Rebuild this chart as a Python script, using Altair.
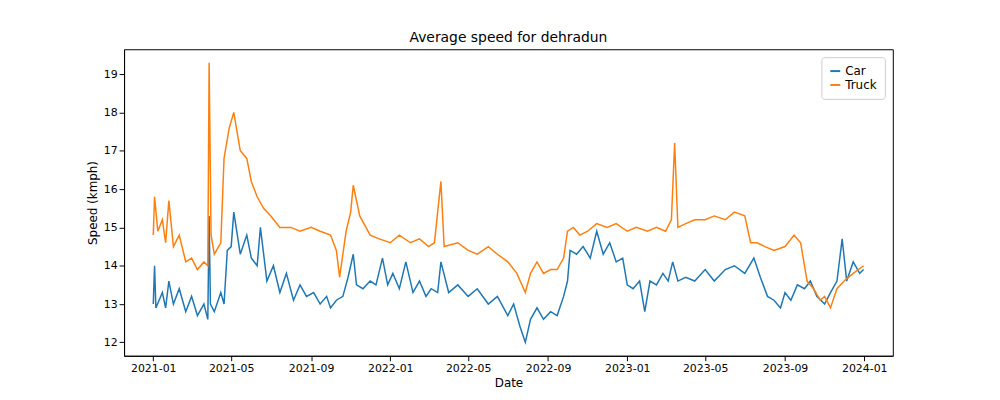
import altair as alt
import pandas as pd

car_dates = ["2021-01-01","2021-01-03","2021-01-05","2021-01-10","2021-01-15","2021-01-20","2021-01-25","2021-02-01","2021-02-10","2021-02-20","2021-03-01","2021-03-10","2021-03-20","2021-03-26","2021-03-28","2021-03-30","2021-04-05","2021-04-15","2021-04-20","2021-04-25","2021-05-01","2021-05-05","2021-05-15","2021-05-25","2021-06-01","2021-06-10","2021-06-15","2021-06-25","2021-07-05","2021-07-15","2021-07-25","2021-08-05","2021-08-15","2021-08-25","2021-09-05","2021-09-15","2021-09-25","2021-10-01","2021-10-10","2021-10-20","2021-10-28","2021-11-05","2021-11-10","2021-11-20","2021-12-01","2021-12-10","2021-12-20","2021-12-28",
    "2022-01-05","2022-01-15","2022-01-25","2022-02-05","2022-02-15","2022-02-25","2022-03-05","2022-03-15","2022-03-20","2022-04-01","2022-04-15","2022-05-01","2022-05-15","2022-06-01","2022-06-15","2022-07-01","2022-07-10","2022-07-20","2022-07-28","2022-08-05","2022-08-15","2022-08-25","2022-09-05","2022-09-15","2022-09-25","2022-10-01","2022-10-05","2022-10-15","2022-10-25","2022-11-05","2022-11-15","2022-11-25","2022-12-05","2022-12-15","2022-12-25",
    "2023-01-01","2023-01-10","2023-01-20","2023-01-28","2023-02-05","2023-02-15","2023-02-25","2023-03-05","2023-03-12","2023-03-20","2023-04-01","2023-04-15","2023-05-01","2023-05-15","2023-06-01","2023-06-15","2023-07-01","2023-07-15","2023-07-25","2023-08-05","2023-08-15","2023-08-25","2023-09-01","2023-09-10","2023-09-20","2023-10-01","2023-10-10","2023-10-20","2023-11-01","2023-11-10","2023-11-20","2023-11-28","2023-12-05","2023-12-15","2023-12-25","2023-12-31"]
car_speed = [13.0,14.0,12.9,13.1,13.3,12.9,13.6,13.0,13.4,12.8,13.2,12.7,13.0,12.6,15.3,13.0,12.8,13.3,13.0,14.4,14.5,15.4,14.3,14.8,14.2,14.0,15.0,13.6,14.0,13.3,13.8,13.1,13.5,13.2,13.3,13.0,13.2,12.9,13.1,13.2,13.7,14.3,13.5,13.4,13.6,13.5,14.2,13.5,
    13.8,13.4,14.1,13.3,13.6,13.2,13.4,13.3,14.1,13.3,13.5,13.2,13.4,13.0,13.2,12.7,13.0,12.4,12.0,12.6,12.9,12.6,12.8,12.7,13.2,13.6,14.4,14.3,14.5,14.2,14.9,14.3,14.6,14.1,14.2,
    13.5,13.4,13.6,12.8,13.6,13.5,13.8,13.6,14.1,13.6,13.7,13.6,13.9,13.6,13.9,14.0,13.8,14.2,13.7,13.2,13.1,12.9,13.3,13.1,13.5,13.4,13.6,13.2,13.0,13.3,13.6,14.7,13.6,14.1,13.8,13.9]

truck_dates = ["2021-01-01","2021-01-03","2021-01-08","2021-01-15","2021-01-20","2021-01-25","2021-02-01","2021-02-10","2021-02-20","2021-03-01","2021-03-10","2021-03-20","2021-03-26","2021-03-28","2021-03-31","2021-04-05","2021-04-15","2021-04-20","2021-04-28","2021-05-05","2021-05-15","2021-05-25","2021-06-01","2021-06-10","2021-06-20","2021-07-01","2021-07-15","2021-08-01","2021-08-15","2021-09-01","2021-09-15","2021-10-01","2021-10-10","2021-10-15","2021-10-25","2021-11-01","2021-11-05","2021-11-15","2021-12-01","2021-12-15",
    "2022-01-01","2022-01-15","2022-02-01","2022-02-15","2022-03-01","2022-03-10","2022-03-20","2022-03-25","2022-04-15","2022-05-01","2022-05-15","2022-06-01","2022-06-15","2022-07-01","2022-07-15","2022-07-28","2022-08-05","2022-08-15","2022-08-25","2022-09-05","2022-09-15","2022-09-25","2022-10-01","2022-10-10","2022-10-20","2022-11-01","2022-11-15","2022-12-01","2022-12-15",
    "2023-01-01","2023-01-15","2023-02-01","2023-02-15","2023-03-01","2023-03-10","2023-03-15","2023-03-20","2023-04-01","2023-04-15","2023-05-01","2023-05-15","2023-06-01","2023-06-15","2023-07-01","2023-07-10","2023-07-20","2023-08-01","2023-08-15","2023-09-01","2023-09-15","2023-09-25","2023-10-05","2023-10-15","2023-10-25","2023-11-01","2023-11-10","2023-11-20","2023-12-01","2023-12-15","2023-12-31"]
truck_speed = [14.8,15.8,14.9,15.2,14.6,15.7,14.5,14.8,14.1,14.2,13.9,14.1,14.0,19.3,14.8,14.3,14.6,16.8,17.6,18.0,17.0,16.8,16.2,15.8,15.5,15.3,15.0,15.0,14.9,15.0,14.9,14.8,14.4,13.7,14.9,15.4,16.1,15.3,14.8,14.7,
    14.6,14.8,14.6,14.7,14.5,14.6,16.2,14.5,14.6,14.4,14.3,14.5,14.3,14.1,13.8,13.3,13.8,14.1,13.8,13.9,13.9,14.2,14.9,15.0,14.8,14.9,15.1,15.0,15.1,
    14.9,15.0,14.9,15.0,14.9,15.2,17.2,15.0,15.1,15.2,15.2,15.3,15.2,15.4,15.3,14.6,14.6,14.5,14.4,14.5,14.8,14.6,13.6,13.4,13.1,13.2,12.9,13.4,13.6,13.8,14.0]

df = pd.concat([
    pd.DataFrame({"date": pd.to_datetime(car_dates), "speed": car_speed, "vehicle": "Car"}),
    pd.DataFrame({"date": pd.to_datetime(truck_dates), "speed": truck_speed, "vehicle": "Truck"}),
])

x_axis = alt.X("date:T", title="Date",
               scale=alt.Scale(domain=["2020-11-17", "2024-02-14"]),
               axis=alt.Axis(format="%Y-%m", values=[f"{y}-{m:02d}-01" for y in (2021, 2022, 2023) for m in (1, 5, 9)] + ["2024-01-01"],
                             grid=False, labelAngle=0))
y_axis = alt.Y("speed:Q", title="Speed (kmph)", scale=alt.Scale(domain=[11.65, 19.65], nice=False, zero=False),
               axis=alt.Axis(values=list(range(12, 20)), grid=False))
legend = alt.Legend(title=None, orient="top-right", strokeColor="#cccccc", padding=8, cornerRadius=3,
                    symbolType="stroke", symbolStrokeWidth=2, labelFontSize=12, offset=8, fillColor="white")

chart = alt.Chart(df).mark_line(strokeWidth=1.5).encode(
    x=x_axis, y=y_axis,
    color=alt.Color("vehicle:N", legend=legend, scale=alt.Scale(domain=["Car", "Truck"], range=["#1f77b4", "#ff7f0e"])),
).properties(
    title=alt.TitleParams("Average speed for dehradun", fontSize=14, fontWeight="normal"),
    width=775, height=309, autosize=alt.AutoSizeParams(type="none"),
    padding={"left": 117, "top": 40, "right": 100, "bottom": 43},
).configure(font="DejaVu Sans").configure_axis(
    labelFontSize=11, titleFontSize=12, titleFontWeight="normal", domainColor="black", tickColor="black", labelColor="black"
).configure_view(stroke="black")

chart.save("out.html", embed_options={"renderer": "svg", "actions": False})
